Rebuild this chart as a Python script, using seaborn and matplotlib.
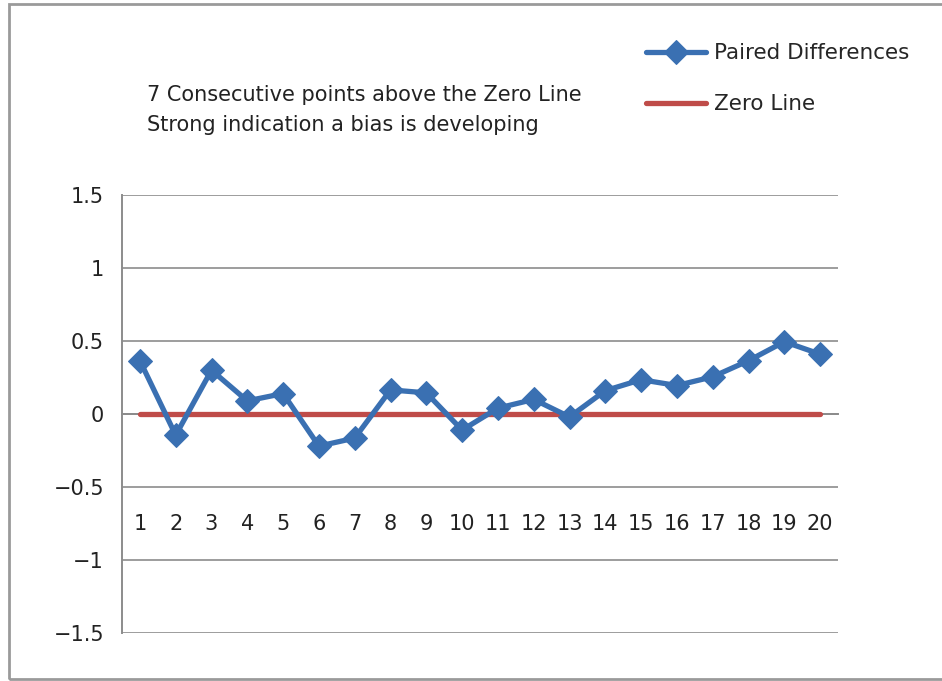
import matplotlib.pyplot as plt
import matplotlib.patches as mpatches
import numpy as np
import pandas as pd
import seaborn as sns

# Data
samples = list(range(1, 21))
paired_diff = [0.365, -0.145, 0.30, 0.09, 0.14, -0.22, -0.165, 0.165, 0.145, -0.11,
               0.04, 0.10, -0.02, 0.16, 0.235, 0.195, 0.255, 0.365, 0.495, 0.41]
zero_line = [0] * 20
y_ticks = [-1.5, -1, -0.5, 0, 0.5, 1, 1.5]
note = "7 Consecutive points above the Zero Line\nStrong indication a bias is developing"

blue = '#3A70B2'
red = '#BF4C49'
grey = '#8C8C8C'

sns.set_style('white')
plt.rcParams['font.family'] = ['DejaVu Sans']

df = pd.DataFrame({'sample': samples, 'diff': paired_diff, 'zero': zero_line})

fig = plt.figure(figsize=(9.42, 6.81), dpi=100)
ax = fig.add_axes([122 / 942, 1 - 633 / 681, (838 - 122) / 942, (633 - 195) / 681])

sns.lineplot(data=df, x='sample', y='zero', ax=ax, color=red, linewidth=3.8,
             label='Zero Line', zorder=3)
sns.lineplot(data=df, x='sample', y='diff', ax=ax, color=blue, linewidth=3.8,
             marker='D', markersize=12, markeredgecolor=blue,
             label='Paired Differences', zorder=4)

ax.set_xlim(0.5, 20.5)
ax.set_ylim(-1.5, 1.5)
ax.set_yticks(y_ticks)
ax.set_yticklabels(['\u22121.5', '\u22121', '\u22120.5', '0', '0.5', '1', '1.5'])
ax.grid(axis='y', color=grey, linewidth=1.2)
ax.set_axisbelow(True)

# category axis crosses at zero, labels pushed down like the Excel original
ax.spines['bottom'].set_position(('data', 0))
for side in ['top', 'right']:
    ax.spines[side].set_visible(False)
for side in ['left', 'bottom']:
    ax.spines[side].set_color(grey)
    ax.spines[side].set_linewidth(1.4)

ax.set_xticks(samples)
ax.set_xticklabels([str(s) for s in samples])
ax.set_xticks(np.arange(1.5, 21, 1), minor=True)
ax.tick_params(axis='x', which='major', length=0, pad=72, labelsize=15, colors='#222222')
ax.tick_params(axis='x', which='minor', length=6, width=1.3, color=grey, direction='out')
ax.tick_params(axis='y', length=7, width=1.3, color=grey, pad=6, labelsize=15,
               labelcolor='#222222', direction='out')
ax.set_xlabel('')
ax.set_ylabel('')

ax.legend_.remove()
handles, labels = ax.get_legend_handles_labels()
fig.legend(handles[::-1], labels[::-1], loc='upper left',
           bbox_to_anchor=(627 / 942, 1 - 24 / 681), frameon=False,
           fontsize=15.5, handlelength=2.75, labelspacing=1.43, handletextpad=0.4)

fig.text(147 / 942, 1 - 110 / 681, note, fontsize=15, color='#222222',
         va='center', ha='left', linespacing=1.6)

# outer chart frame
fig.patches.append(mpatches.Rectangle((9 / 942, 2 / 681), 1.2, 1 - 6 / 681,
                                      transform=fig.transFigure, fill=False,
                                      edgecolor='#9A9A9A', linewidth=2))

fig.savefig('out.png', dpi=100)
